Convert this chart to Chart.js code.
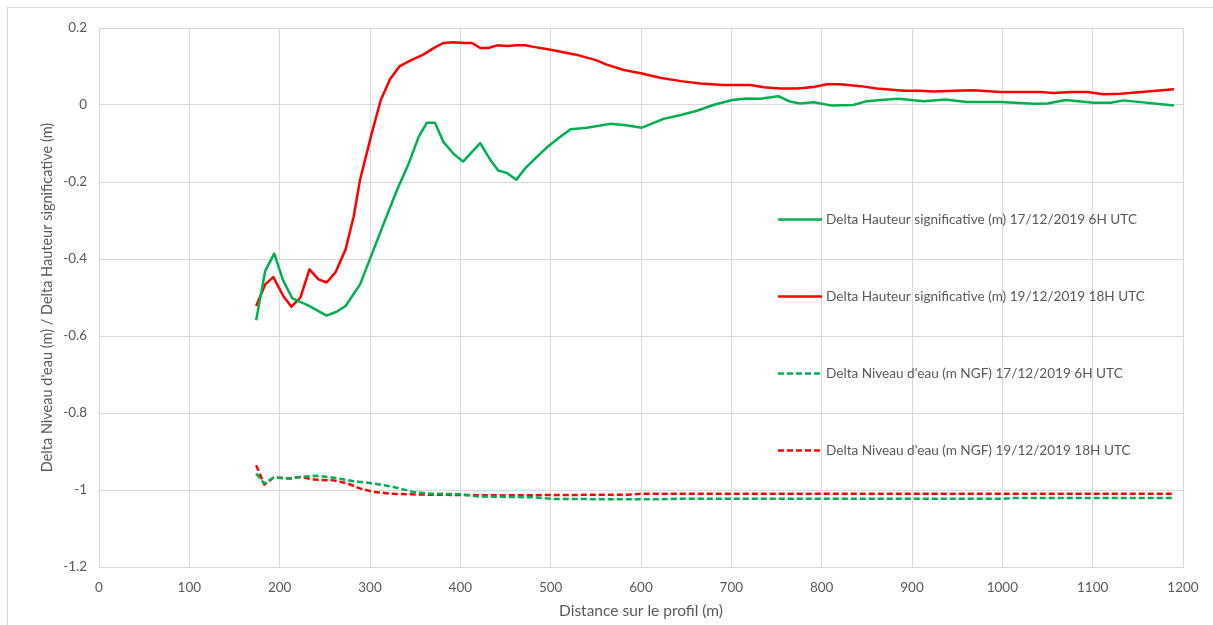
<!DOCTYPE html>
<html>
<head>
<meta charset="utf-8">
<script src="https://cdn.jsdelivr.net/npm/chart.js@4/dist/chart.umd.min.js"></script>
<style>
  html, body { margin: 0; padding: 0; background: #ffffff; }
  #wrap { width: 1213px; height: 625px; position: relative; }
</style>
</head>
<body>
<div id="wrap"><canvas id="c" width="1213" height="625"></canvas></div>
<script>
// Distances along the profile (m) and deltas (m) for each series
const hsDec17X = [174, 184, 194, 204, 214, 232, 252, 263, 273, 289, 317, 330, 343, 354, 363, 372, 381, 393, 403, 422, 433, 442, 452, 462, 472, 485, 496, 511, 522, 540, 555, 566, 581, 601, 625, 644, 662, 680, 701, 717, 732, 752, 765, 776, 791, 810, 835, 850, 865, 885, 913, 937, 961, 998, 1035, 1050, 1070, 1101, 1120, 1134, 1190];
const hsDec17Y = [-0.559, -0.431, -0.386, -0.457, -0.502, -0.521, -0.547, -0.537, -0.522, -0.466, -0.297, -0.220, -0.151, -0.082, -0.046, -0.046, -0.095, -0.128, -0.147, -0.099, -0.142, -0.170, -0.177, -0.194, -0.164, -0.134, -0.110, -0.082, -0.063, -0.059, -0.053, -0.049, -0.052, -0.059, -0.036, -0.026, -0.015, 0.000, 0.013, 0.017, 0.016, 0.023, 0.009, 0.004, 0.007, -0.001, 0.000, 0.010, 0.013, 0.016, 0.010, 0.014, 0.008, 0.008, 0.003, 0.004, 0.013, 0.006, 0.006, 0.012, -0.001];

const hsDec19X = [174, 184, 193, 204, 213, 223, 233, 243, 252, 262, 273, 282, 289, 302, 312, 322, 333, 345, 359, 370, 381, 392, 402, 413, 422, 431, 441, 452, 463, 472, 481, 492, 503, 518, 531, 551, 562, 581, 601, 621, 644, 666, 691, 721, 736, 754, 773, 791, 806, 821, 843, 861, 891, 909, 924, 946, 968, 998, 1042, 1057, 1075, 1094, 1112, 1131, 1190];
const hsDec19Y = [-0.522, -0.466, -0.447, -0.496, -0.524, -0.500, -0.427, -0.453, -0.461, -0.434, -0.375, -0.289, -0.194, -0.073, 0.013, 0.066, 0.101, 0.116, 0.131, 0.147, 0.161, 0.163, 0.161, 0.161, 0.148, 0.148, 0.155, 0.153, 0.155, 0.155, 0.151, 0.147, 0.142, 0.135, 0.129, 0.116, 0.105, 0.091, 0.082, 0.071, 0.062, 0.056, 0.052, 0.052, 0.046, 0.043, 0.043, 0.047, 0.054, 0.054, 0.049, 0.043, 0.037, 0.037, 0.035, 0.037, 0.038, 0.034, 0.034, 0.031, 0.034, 0.034, 0.028, 0.029, 0.041];

const wlDec17X = [174, 183, 193, 212, 223, 241, 260, 282, 304, 326, 348, 363, 400, 420, 480, 500, 560, 620, 640, 700, 800, 900, 1000, 1010, 1100, 1190];
const wlDec17Y = [-0.957, -0.983, -0.968, -0.970, -0.966, -0.963, -0.968, -0.977, -0.983, -0.992, -1.005, -1.009, -1.011, -1.017, -1.019, -1.023, -1.024, -1.024, -1.023, -1.023, -1.023, -1.023, -1.023, -1.021, -1.021, -1.021];

const wlDec19X = [174, 183, 193, 212, 223, 238, 260, 275, 289, 304, 326, 360, 400, 450, 500, 590, 600, 700, 800, 900, 1000, 1100, 1190];
const wlDec19Y = [-0.936, -0.986, -0.968, -0.970, -0.966, -0.973, -0.975, -0.983, -0.996, -1.005, -1.010, -1.012, -1.013, -1.014, -1.013, -1.012, -1.010, -1.010, -1.010, -1.010, -1.010, -1.010, -1.010];

const seriesLabels = [
  "Delta Hauteur significative (m) 17/12/2019 6H UTC",
  "Delta Hauteur significative (m) 19/12/2019 18H UTC",
  "Delta Niveau d'eau (m NGF) 17/12/2019 6H UTC",
  "Delta Niveau d'eau (m NGF) 19/12/2019 18H UTC"
];
const xTickValues = [0, 100, 200, 300, 400, 500, 600, 700, 800, 900, 1000, 1100, 1200];
const yTickValues = [0.2, 0, -0.2, -0.4, -0.6, -0.8, -1, -1.2];

const GREEN = '#00B050';
const RED = '#FF0000';
const TEXT = '#595959';
const GRID = '#D9D9D9';
const FONT = 'Lato, "Open Sans", sans-serif';

const pts = (xs, ys) => xs.map((x, i) => ({ x: x, y: ys[i] }));

// Legend drawn inside the plot, one row per dataset
const innerLegend = {
  id: 'innerLegend',
  afterDraw(chart) {
    const { ctx, chartArea } = chart;
    const step = (chartArea.bottom - chartArea.top) / 7;
    ctx.save();
    chart.data.datasets.forEach((ds, i) => {
      const y = Math.round(chartArea.top + 191 + i * step) + 0.5;
      const x0 = 778, x1 = 822;
      ctx.strokeStyle = ds.borderColor;
      ctx.lineWidth = 2.5;
      ctx.setLineDash(ds.borderDash || []);
      ctx.beginPath();
      ctx.moveTo(x0, y);
      ctx.lineTo(x1, y);
      ctx.stroke();
      ctx.setLineDash([]);
      ctx.fillStyle = TEXT;
      ctx.font = '13.6px ' + FONT;
      ctx.textBaseline = 'middle';
      ctx.textAlign = 'left';
      ctx.fillText(ds.label, x1 + 4, y);
    });
    ctx.restore();
  }
};

// Thin outer frame around the whole chart
const frame = {
  id: 'frame',
  beforeDraw(chart) {
    const { ctx } = chart;
    ctx.save();
    ctx.fillStyle = '#ffffff';
    ctx.fillRect(0, 0, chart.width, chart.height);
    ctx.strokeStyle = GRID;
    ctx.lineWidth = 1;
    ctx.strokeRect(7.5, 7.5, chart.width + 10, chart.height + 10);
    ctx.restore();
  }
};

new Chart(document.getElementById('c'), {
  type: 'line',
  data: {
    datasets: [
      { label: seriesLabels[0], data: pts(hsDec17X, hsDec17Y), borderColor: GREEN, borderWidth: 2.5 },
      { label: seriesLabels[1], data: pts(hsDec19X, hsDec19Y), borderColor: RED, borderWidth: 2.5 },
      { label: seriesLabels[2], data: pts(wlDec17X, wlDec17Y), borderColor: GREEN, borderWidth: 2.5, borderDash: [6, 3] },
      { label: seriesLabels[3], data: pts(wlDec19X, wlDec19Y), borderColor: RED, borderWidth: 2.5, borderDash: [6, 3] }
    ]
  },
  options: {
    responsive: false,
    animation: false,
    devicePixelRatio: 1,
    layout: { padding: { left: 0, right: 30, top: 28, bottom: 0 } },
    elements: { point: { radius: 0 }, line: { tension: 0, fill: false, borderCapStyle: 'butt', borderJoinStyle: 'round' } },
    plugins: { legend: { display: false }, tooltip: { enabled: false } },
    scales: {
      x: {
        type: 'linear',
        min: 0, max: 1200,
        afterBuildTicks: s => { s.ticks = xTickValues.map(v => ({ value: v })); },
        afterFit: s => { s.height = 58; },
        grid: { color: GRID, lineWidth: 1, drawTicks: false },
        border: { color: GRID, width: 1 },
        ticks: { color: TEXT, font: { family: FONT, size: 13.5 }, padding: 13, maxRotation: 0, callback: v => String(v) },
        title: { display: true, text: 'Distance sur le profil (m)', color: TEXT, font: { family: FONT, size: 15.5 }, padding: { top: 0, bottom: 5 } }
      },
      y: {
        type: 'linear',
        min: -1.2, max: 0.2,
        afterBuildTicks: s => { s.ticks = yTickValues.map(v => ({ value: v })); },
        afterFit: s => { s.width = 99; },
        grid: { color: GRID, lineWidth: 1, drawTicks: false },
        border: { color: GRID, width: 1 },
        ticks: { color: TEXT, font: { family: FONT, size: 13.5 }, padding: 12, callback: v => String(Math.round(v * 10) / 10) },
        title: { display: true, text: "Delta Niveau d'eau (m) / Delta Hauteur significative (m)", color: TEXT, font: { family: FONT, size: 14.5 }, padding: { top: 39, bottom: 0 } }
      }
    }
  },
  plugins: [frame, innerLegend]
});
</script>
</body>
</html>
